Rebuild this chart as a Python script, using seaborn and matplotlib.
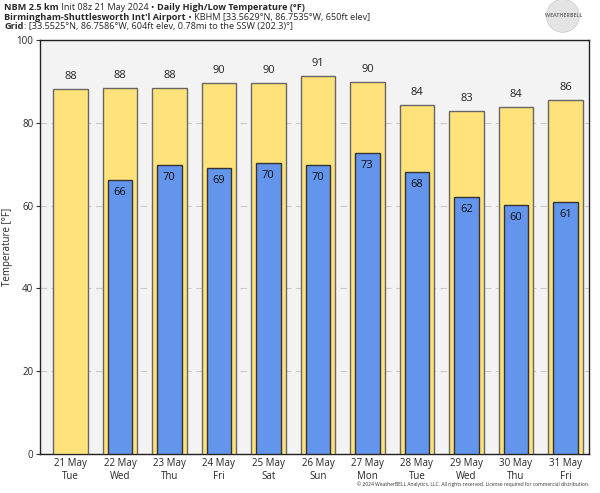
import matplotlib
matplotlib.use("Agg")
import matplotlib.pyplot as plt
from matplotlib.patches import Ellipse
import pandas as pd
import seaborn as sns

days = ["21 May\nTue", "22 May\nWed", "23 May\nThu", "24 May\nFri", "25 May\nSat", "26 May\nSun",
        "27 May\nMon", "28 May\nTue", "29 May\nWed", "30 May\nThu", "31 May\nFri"]
highs = [88.2, 88.4, 88.4, 89.5, 89.7, 91.4, 89.9, 84.4, 82.8, 83.8, 85.6]
lows = [None, 66.2, 69.8, 69.1, 70.3, 69.8, 72.7, 68.1, 62.1, 60.1, 60.9]

df = pd.DataFrame({"day": days, "high": highs, "low": lows})

sns.set_style("white")
plt.rcParams["font.family"] = ["Open Sans", "DejaVu Sans"]

fig = plt.figure(figsize=(6, 4.93), dpi=100)
ax = fig.add_axes([0.067, 0.079, 0.915, 0.84])
ax.set_facecolor("#f3f3f3")

sns.barplot(data=df, x="day", y="high", color="#ffe27a", saturation=1, width=0.7,
            edgecolor="#666666", linewidth=1, ax=ax, zorder=3)
sns.barplot(data=df, x="day", y="low", color="#6495ed", saturation=1, width=0.5,
            edgecolor="#333333", linewidth=1, ax=ax, zorder=4)

# value labels
for i, v in enumerate(highs):
    ax.annotate(f"{round(v)}", (i, v), xytext=(0, 5), textcoords="offset points",
                ha="center", va="bottom", fontsize=8, color="#222222", zorder=5)
for i, v in enumerate(lows):
    if v is None:
        continue
    ax.annotate(f"{round(v)}", (i, v), xytext=(0, -5), textcoords="offset points",
                ha="center", va="top", fontsize=8, color="#111111", zorder=5)

ax.set_ylim(0, 100)
ax.set_xlim(-0.61, 10.48)
ax.set_yticks([0, 20, 40, 60, 80, 100])
ax.yaxis.grid(True, linestyle=(0, (6, 4)), color="#cccccc", linewidth=0.8, zorder=0)
ax.set_axisbelow(True)
ax.tick_params(axis="y", left=True, labelsize=7, length=3, color="#333333", pad=2)
ax.tick_params(axis="x", labelsize=7, length=0, pad=3)
ax.set_xlabel("")
ax.set_ylabel("Temperature [°F]", fontsize=7)
ax.yaxis.set_label_coords(-0.049, 0.5)
for s in ax.spines.values():
    s.set_color("#222222")
    s.set_linewidth(1)


def chain(parts, y):
    t = fig.text(0.007, y, parts[0][0], fontsize=6.6,
                 fontweight="bold" if parts[0][1] else "normal", ha="left", va="baseline")
    for txt, bold in parts[1:]:
        t = ax.annotate(txt, xy=(1, 0), xycoords=t, xytext=(0, 0), textcoords="offset points",
                        fontsize=6.6, fontweight="bold" if bold else "normal",
                        ha="left", va="bottom", annotation_clip=False)
    return t


chain([("NBM 2.5 km", True), (" Init 08z 21 May 2024 • ", False),
       ("Daily High/Low Temperature (°F)", True)], 0.979)
chain([("Birmingham-Shuttlesworth Int'l Airport", True),
       (" • KBHM [33.5629°N, 86.7535°W, 650ft elev]", False)], 0.960)
chain([("Grid", True), (": [33.5525°N, 86.7586°W, 604ft elev, 0.78mi to the SSW (202.3)°]", False)],
      0.942)

# logo stand-in
fig.patches.append(Ellipse((0.938, 0.968), 0.055, 0.055 * 600 / 493, transform=fig.transFigure,
                           facecolor="#e4e4e4", edgecolor="#c8c8c8", linewidth=0.5))
fig.text(0.94, 0.968, "WEATHERBELL", fontsize=3.8, color="#777777", ha="center", va="center",
         fontweight="bold")
fig.text(0.982, 0.012, "© 2024 WeatherBELL Analytics, LLC. All rights reserved. License required for commercial distribution.",
         fontsize=3.6, ha="right", va="bottom", color="#333333")

fig.savefig("out.png", dpi=100)
